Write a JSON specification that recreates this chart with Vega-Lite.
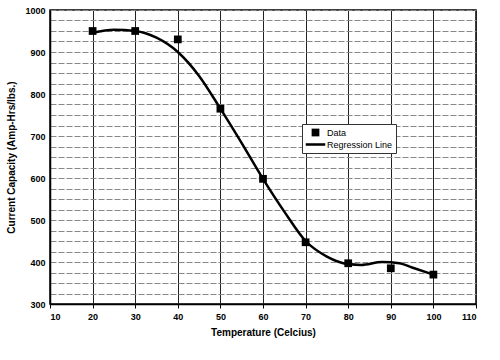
{
  "$schema": "https://vega.github.io/schema/vega-lite/v6.json",
  "width": 426,
  "height": 294,
  "autosize": "none",
  "padding": {"left": 50, "top": 10, "right": 24, "bottom": 56},
  "background": "white",
  "config": {
    "font": "Liberation Sans",
    "view": {"stroke": "black", "strokeWidth": 1.5},
    "axis": {
      "labelFont": "Liberation Sans", "labelFontWeight": "bold", "labelFontSize": 9, "labelColor": "black",
      "titleFont": "Liberation Sans", "titleFontWeight": "bold", "titleFontSize": 10, "titleColor": "black",
      "domainColor": "black", "domainWidth": 1.5, "tickColor": "black"
    }
  },
  "datasets": {
    "pts": [
      {"temp": 20, "cap": 950, "series": "Data"},
      {"temp": 30, "cap": 950, "series": "Data"},
      {"temp": 40, "cap": 930, "series": "Data"},
      {"temp": 50, "cap": 765, "series": "Data"},
      {"temp": 60, "cap": 598, "series": "Data"},
      {"temp": 70, "cap": 447, "series": "Data"},
      {"temp": 80, "cap": 397, "series": "Data"},
      {"temp": 90, "cap": 385, "series": "Data"},
      {"temp": 100, "cap": 370, "series": "Data"}
    ],
    "curve": [
      {"temp": 20, "cap": 946},
      {"temp": 25, "cap": 953},
      {"temp": 30, "cap": 950},
      {"temp": 35, "cap": 934},
      {"temp": 40, "cap": 900},
      {"temp": 45, "cap": 843},
      {"temp": 50, "cap": 765},
      {"temp": 55, "cap": 683},
      {"temp": 60, "cap": 598},
      {"temp": 65, "cap": 520},
      {"temp": 70, "cap": 450},
      {"temp": 75, "cap": 413},
      {"temp": 80, "cap": 395},
      {"temp": 83, "cap": 393},
      {"temp": 88, "cap": 400},
      {"temp": 92, "cap": 397},
      {"temp": 95, "cap": 387},
      {"temp": 100, "cap": 370}
    ]
  },
  "encoding": {
    "x": {"field": "temp", "type": "quantitative",
      "scale": {"domain": [10, 110], "nice": false, "zero": false},
      "axis": {"values": [10,20,30,40,50,60,70,80,90,100,110], "title": "Temperature (Celcius)",
        "grid": true, "gridColor": "#222", "gridWidth": 1, "tickSize": 4, "labelPadding": 4, "titlePadding": 6}},
    "y": {"field": "cap", "type": "quantitative",
      "scale": {"domain": [300, 1000], "nice": false, "zero": false},
      "axis": {"values": [300,325,350,375,400,425,450,475,500,525,550,575,600,625,650,675,700,725,750,775,800,825,850,875,900,925,950,975,1000],
        "format": "d",
        "labelExpr": "datum.value % 100 === 0 ? datum.label : ''",
        "title": "Current Capacity (Amp-Hrs/lbs.)", "grid": true, "gridColor": "#888", "gridWidth": 1,
        "gridDash": [6, 2], "ticks": false, "labelPadding": 5, "titlePadding": 8}}
  },
  "layer": [
    {
      "data": {"name": "curve"},
      "mark": {"type": "line", "color": "black", "strokeWidth": 2.5, "interpolate": "monotone"}
    },
    {
      "data": {"name": "pts"},
      "mark": {"type": "point", "filled": true, "opacity": 1, "color": "black"},
      "encoding": {
        "shape": {"field": "series", "type": "nominal",
          "scale": {"domain": ["Data", "Regression Line"], "range": ["square", "M-1,-0.13H1V0.13H-1Z"]},
          "legend": {"title": null, "orient": "none", "legendX": 252, "legendY": 114,
            "fillColor": "white", "strokeColor": "#333", "padding": 3, "rowPadding": 1, "clipHeight": 11,
            "labelFont": "Liberation Sans", "labelFontSize": 9, "labelColor": "black", "labelOffset": 1,
            "encode": {"symbols": {"update": {"fill": {"value": "black"}, "opacity": {"value": 1}}}}}},
        "size": {"field": "series", "type": "nominal",
          "scale": {"domain": ["Data", "Regression Line"], "range": [60, 380]},
          "legend": {"title": null, "orient": "none", "legendX": 252, "legendY": 114}}
      }
    }
  ]
}
